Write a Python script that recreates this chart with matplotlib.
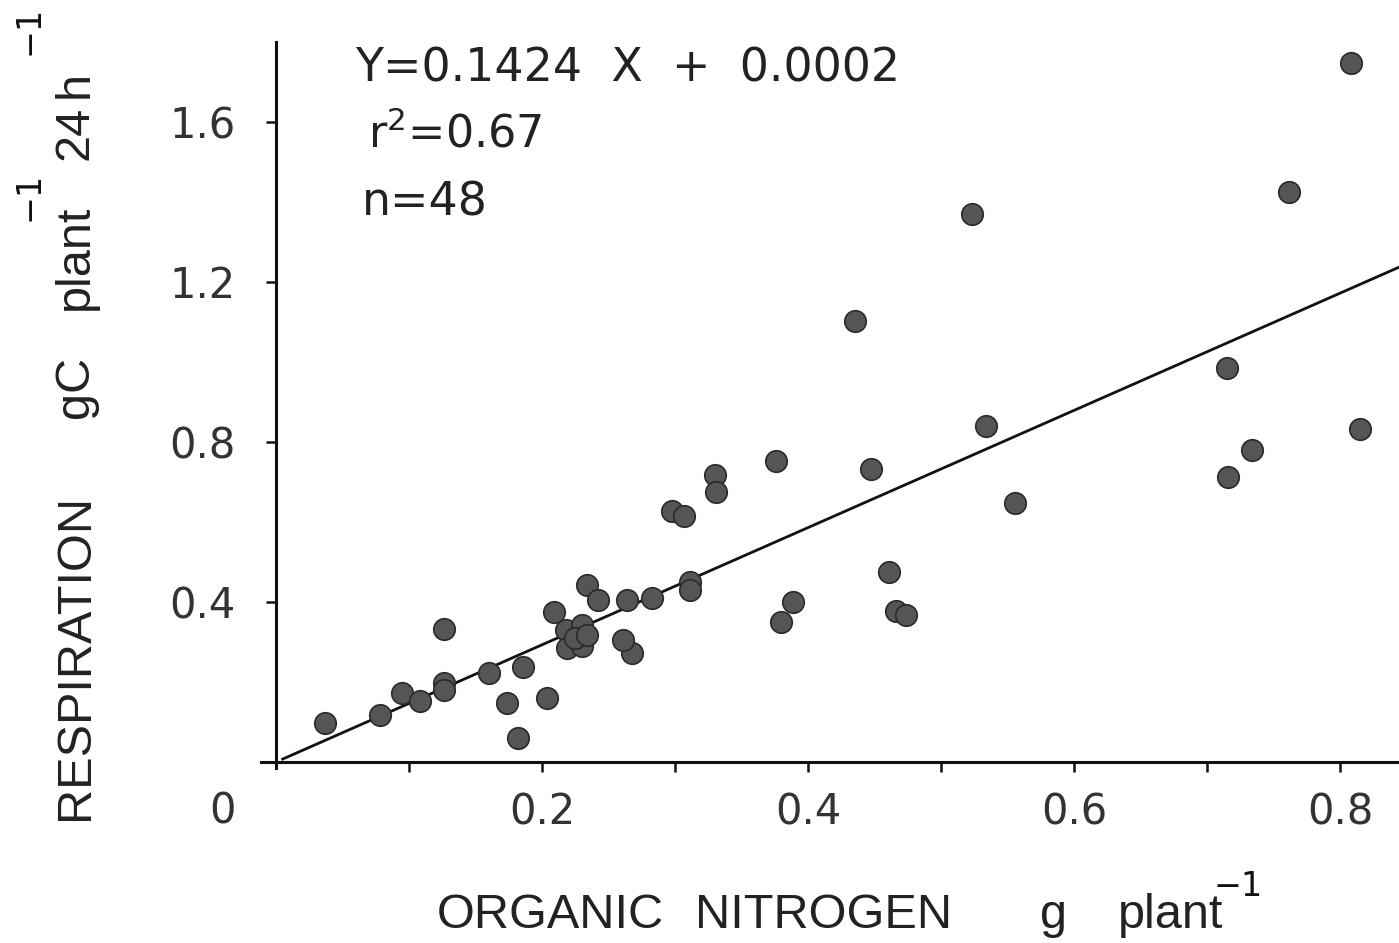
import numpy as np
import matplotlib
matplotlib.use("Agg")
import matplotlib.pyplot as plt

# organic nitrogen (g plant-1) and respiration (gC plant-1 24h-1)
nitrogen = [0.037, 0.078, 0.095, 0.108, 0.126, 0.126, 0.126, 0.160, 0.186, 0.174,
            0.182, 0.204, 0.209, 0.218, 0.230, 0.219, 0.230, 0.225, 0.234, 0.234,
            0.242, 0.264, 0.283, 0.268, 0.261, 0.311, 0.311, 0.298, 0.307, 0.330,
            0.331, 0.376, 0.380, 0.389, 0.435, 0.447, 0.461, 0.466, 0.474, 0.523,
            0.534, 0.556, 0.715, 0.716, 0.734, 0.762, 0.808, 0.815]
respiration = [0.098, 0.118, 0.173, 0.153, 0.198, 0.180, 0.333, 0.223, 0.238, 0.148,
               0.060, 0.160, 0.375, 0.330, 0.343, 0.285, 0.290, 0.310, 0.318, 0.443,
               0.405, 0.405, 0.410, 0.273, 0.305, 0.450, 0.430, 0.628, 0.615, 0.718,
               0.675, 0.753, 0.350, 0.400, 1.103, 0.733, 0.475, 0.378, 0.368, 1.370,
               0.840, 0.648, 0.985, 0.713, 0.780, 1.425, 1.748, 0.833]

# regression line as drawn on the figure
line_slope = 1.465
line_intercept = 0.0
line_x = [0.005, 0.844]

xticks = [0.1, 0.2, 0.3, 0.4, 0.5, 0.6, 0.7, 0.8]
xticklabels = ["", "0.2", "", "0.4", "", "0.6", "", "0.8"]
yticks = [0.4, 0.8, 1.2, 1.6]
yticklabels = ["0.4", "0.8", "1.2", "1.6"]

W, H = 1399, 943


def fx(x):
    return x / W


def fy(y):
    return 1 - y / H


fig = plt.figure(figsize=(W / 100, H / 100), dpi=100)
ax = fig.add_axes([fx(261.4), fy(768), (1398.5 - 261.4) / W, (768 - 42) / H])
ax.set_xlim(-0.011, 0.844)
ax.set_ylim(-0.015, 1.80)

ax.spines["top"].set_visible(False)
ax.spines["right"].set_visible(False)
ax.spines["left"].set_position(("data", 0))
ax.spines["bottom"].set_position(("data", 0))
ax.spines["left"].set_linewidth(2.2)
ax.spines["bottom"].set_linewidth(2.2)
ax.spines["left"].set_color("#111111")
ax.spines["bottom"].set_color("#111111")

ax.set_xticks(xticks)
ax.set_xticklabels(xticklabels)
ax.set_yticks(yticks)
ax.set_yticklabels(yticklabels)
ax.tick_params(axis="x", direction="out", length=7, width=1.8, pad=14,
               labelsize=30, colors="#111111", labelcolor="#333333")
ax.tick_params(axis="y", direction="out", length=7, width=1.8, pad=22,
               labelsize=30, colors="#111111", labelcolor="#333333")
for lab in ax.get_xticklabels() + ax.get_yticklabels():
    lab.set_family("DejaVu Sans")

lx = np.array(line_x)
ax.plot(lx, line_slope * lx + line_intercept, color="#111111", lw=2.0, zorder=2)

ax.scatter(nitrogen, respiration, s=240, facecolor="#555555",
           edgecolor="#2a2a2a", linewidth=1.2, zorder=3)

# origin label
ax.text(-0.0406, -0.125, "0", fontsize=30, color="#333333", ha="center",
        va="center", clip_on=False)

# regression statistics
fig.text(fx(355), fy(82), "Y=0.1424  X  +  0.0002", fontsize=33,
         color="#222222", va="baseline", ha="left")
fig.text(fx(368), fy(148), "r$^{2}$=0.67", fontsize=32,
         color="#222222", va="baseline", ha="left")
fig.text(fx(362), fy(216), "n=48", fontsize=33,
         color="#222222", va="baseline", ha="left")

# x axis title, word by word
lab_kw = dict(fontsize=35, family="Liberation Sans", color="#222222", va="baseline")
fig.text(fx(437), fy(928), "ORGANIC", ha="left", **lab_kw)
fig.text(fx(695), fy(928), "NITROGEN", ha="left", **lab_kw)
fig.text(fx(1040), fy(928), "g", ha="left", **lab_kw)
fig.text(fx(1223), fy(928), "plant", ha="right", **lab_kw)
fig.text(fx(1238), fy(887), "\u22121", fontsize=24, family="DejaVu Sans",
         color="#111111", ha="center", va="center")

# y axis title, word by word (rotated)
rot_kw = dict(fontsize=35, family="Liberation Sans", color="#222222", rotation=90,
              rotation_mode="anchor", va="baseline")
fig.text(fx(88), fy(820), "RESPIRATION", ha="left", **rot_kw)
fig.text(fx(88), fy(418), "gC", ha="left", **rot_kw)
fig.text(fx(88), fy(205), "plant", ha="right", **rot_kw)
fig.text(fx(29), fy(196), "\u22121", fontsize=24, family="DejaVu Sans",
         color="#111111", rotation=90, ha="center", va="center")
fig.text(fx(88), fy(160), "24", ha="left", **rot_kw)
fig.text(fx(88), fy(98), "h", ha="left", **rot_kw)
fig.text(fx(29), fy(30), "\u22121", fontsize=24, family="DejaVu Sans",
         color="#111111", rotation=90, ha="center", va="center")

fig.savefig("out.png", dpi=100, facecolor="white")
